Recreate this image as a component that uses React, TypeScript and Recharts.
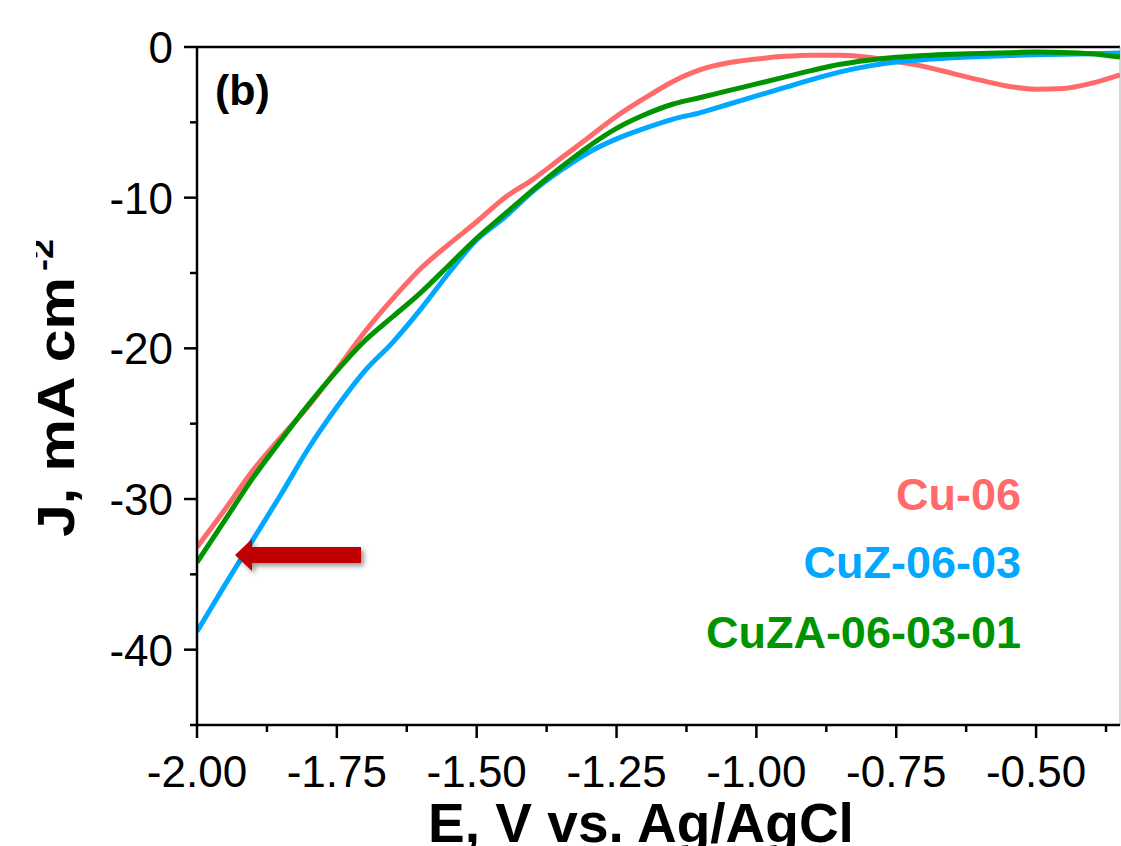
import { CartesianGrid, Line, LineChart, ReferenceLine, XAxis, YAxis } from 'recharts';

// potential, V vs. Ag/AgCl
const potential = [
    -2.0, -1.95, -1.9, -1.85, -1.8, -1.75, -1.7, -1.65, -1.6, -1.55, -1.5, -1.45, -1.4, -1.35, -1.3, -1.25, -1.2,
    -1.15, -1.1, -1.05, -1.0, -0.95, -0.9, -0.85, -0.8, -0.75, -0.7, -0.65, -0.6, -0.55, -0.5, -0.45, -0.4, -0.35,
];

// current density, mA cm-2
const cu06 = [
    -33.2, -30.7, -28.1, -25.9, -23.8, -21.4, -18.9, -16.7, -14.7, -13.1, -11.6, -10.0, -8.8, -7.4, -6.0, -4.6, -3.4,
    -2.3, -1.5, -1.05, -0.8, -0.62, -0.54, -0.55, -0.68, -0.97, -1.3, -1.75, -2.2, -2.6, -2.8, -2.75, -2.4, -1.85,
];
const cuz060303 = [
    -38.8, -35.7, -32.7, -29.7, -26.6, -23.9, -21.5, -19.6, -17.4, -15.0, -12.8, -11.3, -9.6, -8.2, -7.0, -6.1, -5.4,
    -4.8, -4.35, -3.8, -3.25, -2.7, -2.15, -1.65, -1.27, -1.0, -0.84, -0.72, -0.63, -0.57, -0.52, -0.48, -0.44, -0.4,
];
const cuza06030301 = [
    -34.2, -31.4, -28.6, -26.1, -23.7, -21.5, -19.5, -17.9, -16.3, -14.5, -12.7, -11.1, -9.5, -8.0, -6.6, -5.4, -4.5,
    -3.8, -3.35, -2.9, -2.45, -2.0, -1.55, -1.15, -0.88, -0.68, -0.56, -0.48, -0.43, -0.38, -0.34, -0.36, -0.45, -0.67,
];

const xMajor = [-2.0, -1.75, -1.5, -1.25, -1.0, -0.75, -0.5];
const xMinor = [-1.875, -1.625, -1.375, -1.125, -0.875, -0.625, -0.375];
const yMajor = [-40, -30, -20, -10, 0];
const yMinor = [-45, -35, -25, -15, -5];

const series = [
    { key: 'cu06', name: 'Cu-06', color: '#ff6b6b', values: cu06 },
    { key: 'cuz', name: 'CuZ-06-03', color: '#00a8ff', values: cuz060303 },
    { key: 'cuza', name: 'CuZA-06-03-01', color: '#009400', values: cuza06030301 },
];

const data = potential.map((E, i) => {
    const row: Record<string, number> = { E };
    series.forEach((s) => (row[s.key] = s.values[i]));
    return row;
});

const FONT = '"Liberation Sans", Arial, sans-serif';

const XTick = (props: any) => {
    const { x, y, payload } = props;
    const major = xMajor.includes(payload.value);
    return (
        <g>
            <line x1={x} x2={x} y1={y} y2={y + (major ? 13 : 7)} stroke="#000" strokeWidth={2.5} />
            {major && (
                <text x={x} y={y + 62} textAnchor="middle" fontSize={44} fontFamily={FONT} fill="#000">
                    {payload.value.toFixed(2)}
                </text>
            )}
        </g>
    );
};

const YTick = (props: any) => {
    const { x, y, payload } = props;
    const major = yMajor.includes(payload.value);
    return (
        <g>
            <line x1={x - (major ? 13 : 7)} x2={x} y1={y} y2={y} stroke="#000" strokeWidth={2.5} />
            {major && (
                <text x={x - 24} y={y} dy="0.36em" textAnchor="end" fontSize={44} fontFamily={FONT} fill="#000">
                    {String(payload.value)}
                </text>
            )}
        </g>
    );
};

const YTitle = () => {
    const bx = 74;
    const by = 537;
    const sx = 53;
    const sy = 271;
    return (
        <g clipPath="url(#ytitle-clip)" fontWeight="bold" fontFamily={FONT} fill="#000">
            <defs>
                <clipPath id="ytitle-clip">
                    <rect x={36} y={0} width={200} height={846} />
                </clipPath>
            </defs>
            <text
                x={bx}
                y={by}
                transform={`rotate(-90 ${bx} ${by})`}
                fontSize={52}
                textLength={260}
                lengthAdjust="spacingAndGlyphs"
            >
                J, mA cm
            </text>
            <text
                x={sx}
                y={sy}
                transform={`rotate(-90 ${sx} ${sy})`}
                fontSize={32}
                textLength={32}
                lengthAdjust="spacingAndGlyphs"
            >
                -2
            </text>
        </g>
    );
};

const XTitle = () => (
    <text x={641} y={842} textAnchor="middle" fontSize={55} fontWeight="bold" fontFamily={FONT} fill="#000">
        E, V vs. Ag/AgCl
    </text>
);

const legendBaselines = [510, 578, 648];

export default function App() {
    return (
        <div style={{ position: 'absolute', left: 0, top: 0, width: 1121, height: 846, background: '#fff' }}>
            <LineChart width={1121} height={846} data={data} margin={{ top: 47, right: 1, bottom: 0, left: 0 }}>
                <CartesianGrid stroke="none" />
                <XAxis
                    dataKey="E"
                    type="number"
                    domain={[-2, -0.35]}
                    allowDataOverflow
                    ticks={[...xMajor, ...xMinor]}
                    interval={0}
                    height={121}
                    tickSize={0}
                    tickMargin={0}
                    tickLine={false}
                    axisLine={{ stroke: '#000', strokeWidth: 2.5 }}
                    tick={<XTick />}
                    label={{ content: <XTitle /> }}
                />
                <YAxis
                    type="number"
                    domain={[-45, 0]}
                    allowDataOverflow
                    ticks={[...yMajor, ...yMinor]}
                    interval={0}
                    width={197}
                    tickSize={0}
                    tickMargin={0}
                    tickLine={false}
                    axisLine={{ stroke: '#000', strokeWidth: 2.5 }}
                    tick={<YTick />}
                    label={{ content: <YTitle /> }}
                />
                <ReferenceLine y={0} stroke="#000" strokeWidth={2.5} />
                <ReferenceLine x={-0.35} stroke="#b0b0b0" strokeWidth={1} />
                {series.map((s) => (
                    <Line
                        key={s.key}
                        type="monotone"
                        dataKey={s.key}
                        name={s.name}
                        stroke={s.color}
                        strokeWidth={5}
                        dot={false}
                        isAnimationActive={false}
                    />
                ))}
            </LineChart>
            <svg
                width={1121}
                height={846}
                style={{ position: 'absolute', left: 0, top: 0, pointerEvents: 'none' }}
            >
                <defs>
                    <filter id="arrow-shadow" x="-20%" y="-50%" width="140%" height="200%">
                        <feDropShadow dx={3} dy={3} stdDeviation={2.5} floodColor="#000" floodOpacity={0.4} />
                    </filter>
                </defs>
                <text x={215} y={105} fontSize={43} fontWeight="bold" fontFamily={FONT} fill="#000">
                    (b)
                </text>
                {series.map((s, i) => (
                    <text
                        key={s.key}
                        x={1021}
                        y={legendBaselines[i]}
                        textAnchor="end"
                        fontSize={45}
                        fontWeight="bold"
                        fontFamily={FONT}
                        fill={s.color}
                    >
                        {s.name}
                    </text>
                ))}
                <polygon
                    points="235,555 252,539 252,547 361,547 361,563 252,563 252,571"
                    fill="#c00000"
                    filter="url(#arrow-shadow)"
                />
            </svg>
        </div>
    );
}
